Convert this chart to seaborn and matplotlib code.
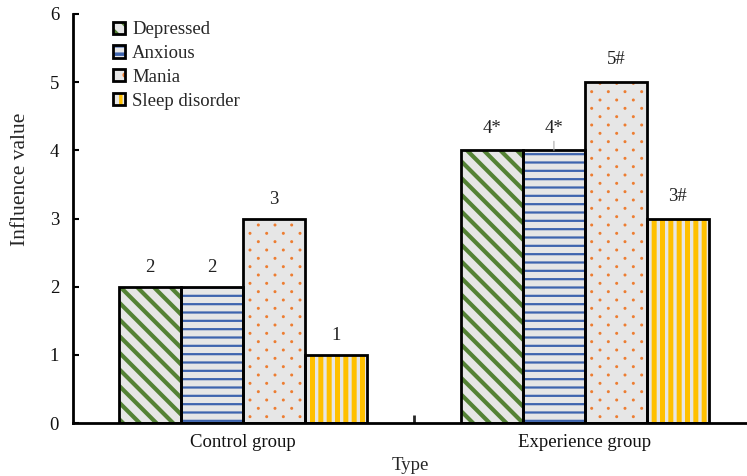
import matplotlib
matplotlib.use("Agg")
import numpy as np
import matplotlib.pyplot as plt
import matplotlib.hatch as mhatch
from matplotlib.path import Path
import seaborn as sns
import pandas as pd
from matplotlib.patches import Patch, Rectangle
from matplotlib.legend_handler import HandlerTuple

# ---- data ----
groups = ["Control group", "Experience group"]
kinds = ["Depressed", "Anxious", "Mania", "Sleep disorder"]
depressed = [2, 4]
anxious = [2, 4]
mania = [3, 5]
sleep_disorder = [1, 3]
bar_labels = {
    "Depressed": ["2", "4*"],
    "Anxious": ["2", "4*"],
    "Mania": ["3", "5#"],
    "Sleep disorder": ["1", "3#"],
}

values = {"Depressed": depressed, "Anxious": anxious, "Mania": mania,
          "Sleep disorder": sleep_disorder}
rows = []
for k in kinds:
    for g, v in zip(groups, values[k]):
        rows.append({"Type": g, "Kind": k, "value": v})
df = pd.DataFrame(rows)


# ---- custom staggered small-dot hatch (replaces the '.' pattern) ----
class StaggeredDots(mhatch.HatchPatternBase):
    filled = True

    def __init__(self, hatch, density):
        n = hatch.count('.')
        self.ncols = density * n
        self.nrows = 2 * density * n
        path = Path.unit_circle()
        self.shape_vertices = path.vertices
        self.shape_codes = path.codes
        if n == 0:
            self.num_vertices = 0
        else:
            nshapes = sum(self.ncols + 1 if r % 2 == 0 else self.ncols
                          for r in range(self.nrows + 1))
            self.num_vertices = nshapes * len(self.shape_vertices)

    def set_vertices_and_codes(self, vertices, codes):
        sv = self.shape_vertices * 0.008
        dx = 1.0 / self.ncols
        dy = 1.0 / self.nrows
        vparts, cparts = [], []
        for r in range(self.nrows + 1):
            if r % 2 == 0:
                cols = np.linspace(0, 1, self.ncols + 1)
            else:
                cols = np.linspace(dx / 2, 1 - dx / 2, self.ncols)
            for c in cols:
                vparts.append(sv + [c, r * dy])
                cparts.append(self.shape_codes)
        np.concatenate(vparts, out=vertices)
        np.concatenate(cparts, out=codes)


mhatch._hatch_types = [StaggeredDots if t is mhatch.SmallFilledCircles else t
                       for t in mhatch._hatch_types]

# ---- styling ----
sns.set_theme(style="white")
plt.rcParams["font.family"] = ["Liberation Serif", "DejaVu Serif"]
plt.rcParams["hatch.linewidth"] = 2.5

FS = 13.5
face = "#E6E6E6"
hatch_colors = {"Depressed": "#548235", "Anxious": "#3E64AE",
                "Mania": "#ED7D31", "Sleep disorder": "#FFC000"}
hatches = {"Depressed": "\\\\", "Anxious": "--", "Mania": ".", "Sleep disorder": "||"}
hatch_lw = {"Depressed": 3.0, "Anxious": 1.6, "Mania": 1.0, "Sleep disorder": 3.6}

fig = plt.figure(figsize=(7.47, 4.76), dpi=100)
ax = fig.add_axes([0.0977, 0.1113, 0.9023, 0.8593])

sns.barplot(data=df, x="Type", y="value", hue="Kind", hue_order=kinds,
            order=groups, palette=hatch_colors, width=0.725, ax=ax,
            errorbar=None, legend=False)


def style_patch(p, k):
    p.set_facecolor(face)
    p.set_edgecolor(hatch_colors[k])
    p.set_hatch(hatches[k])
    p.set_linewidth(0)
    if hasattr(p, "set_hatch_linewidth"):
        p.set_hatch_linewidth(hatch_lw[k])


for k, cont in zip(kinds, ax.containers):
    for j, bar in enumerate(cont):
        style_patch(bar, k)
        outline = Rectangle(bar.get_xy(), bar.get_width(), bar.get_height(),
                            facecolor="none", edgecolor="black", linewidth=2.0,
                            zorder=bar.get_zorder() + 0.1)
        ax.add_patch(outline)
        xc = bar.get_x() + bar.get_width() / 2
        top = bar.get_height()
        off = 16 if j == 1 else 14
        if k == "Anxious" and j == 1:
            ax.annotate(bar_labels[k][j], xy=(xc, top), xytext=(0, off),
                        textcoords="offset points", ha="center", va="center",
                        fontsize=FS, color="#222222",
                        arrowprops=dict(arrowstyle="-", color="#aaaaaa",
                                        lw=0.8, shrinkA=1, shrinkB=0))
        else:
            ax.annotate(bar_labels[k][j], xy=(xc, top), xytext=(0, off),
                        textcoords="offset points", ha="center", va="center",
                        fontsize=FS, color="#222222")

# legend
handles = []
for k in kinds:
    hp = Patch(linewidth=0)
    style_patch(hp, k)
    op = Patch(facecolor="none", edgecolor="black", linewidth=2.0)
    handles.append((hp, op))
leg = ax.legend(handles, kinds, handler_map={tuple: HandlerTuple(ndivide=1, pad=0)},
                loc="upper left", bbox_to_anchor=(40 / 674, 0.982), frameon=False,
                fontsize=FS, handlelength=0.62, handleheight=0.62,
                handletextpad=0.4, labelspacing=0.36, borderaxespad=0.0,
                borderpad=0.0)

ax.set_ylim(0, 6)
ax.set_xlim(-0.497, 1.474)
ax.set_yticks(range(0, 7))
ax.set_xlabel("Type", fontsize=FS, labelpad=4)
ax.set_ylabel("Influence value", fontsize=15.5)
ax.yaxis.set_label_coords(-43 / 674, 0.597)

for s in ["top", "right"]:
    ax.spines[s].set_visible(False)
for s in ["left", "bottom"]:
    ax.spines[s].set_color("black")
    ax.spines[s].set_linewidth(2.0)

ax.tick_params(axis="y", direction="in", length=4, width=1.5, labelsize=FS,
               left=True, pad=10, colors="black")
ax.tick_params(axis="x", which="major", length=0, labelsize=FS, pad=8)
ax.set_xticks([0.5], minor=True)
ax.tick_params(axis="x", which="minor", direction="in", length=6, width=2.0,
               bottom=True)
for t in ax.get_xticklabels() + ax.get_yticklabels():
    t.set_color("#111111")

fig.savefig("out.png", dpi=100)
